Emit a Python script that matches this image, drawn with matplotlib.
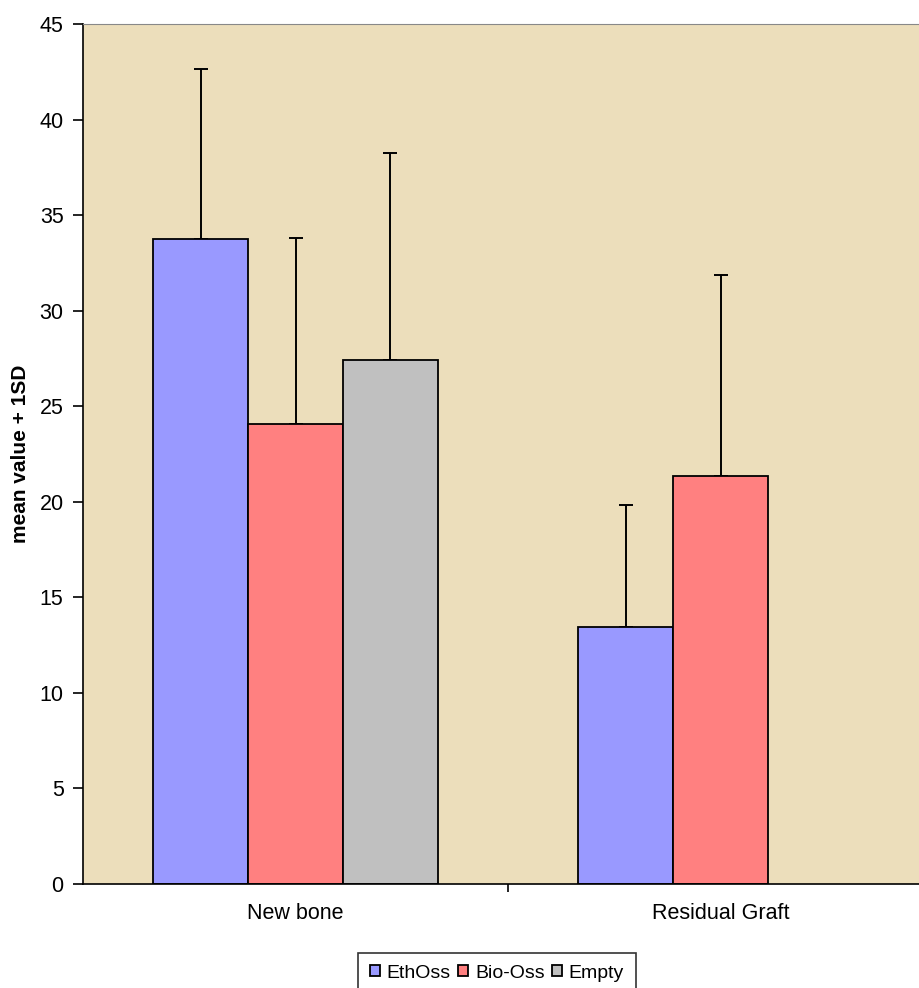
import numpy as np
import matplotlib.pyplot as plt

plt.rcParams['font.family'] = ['Liberation Sans', 'DejaVu Sans']

categories = ['New bone', 'Residual Graft']
series = ['EthOss', 'Bio-Oss', 'Empty']
means = {
    'EthOss': [33.75, 13.43],
    'Bio-Oss': [24.07, 21.33],
    'Empty': [27.42, np.nan],
}
sds = {
    'EthOss': [8.9, 6.39],
    'Bio-Oss': [9.73, 10.54],
    'Empty': [10.83, np.nan],
}
colors = {'EthOss': '#9999FF', 'Bio-Oss': '#FF8080', 'Empty': '#C0C0C0'}
yticks = [0, 5, 10, 15, 20, 25, 30, 35, 40, 45]

fig = plt.figure(figsize=(9.2, 9.88), dpi=100)
ax = fig.add_axes([83 / 920, 1 - 884 / 988, 850 / 920, 860 / 988])
ax.set_facecolor('#ECDEBB')

width = 0.2228
x = np.arange(len(categories))
for i, name in enumerate(series):
    pos = x + (i - 1) * width
    vals = np.array(means[name])
    errs = np.array(sds[name])
    ok = ~np.isnan(vals)
    ax.bar(pos[ok], vals[ok], width, color=colors[name], edgecolor='black',
           linewidth=1.3, label=name, zorder=2)
    # only the upper half of the SD bar is shown
    ax.errorbar(pos[ok], vals[ok], yerr=[np.zeros(ok.sum()), errs[ok]],
                fmt='none', ecolor='black', elinewidth=1.4, capsize=5,
                capthick=1.4, zorder=1)

ax.set_xlim(-0.5, 1.5)
ax.set_ylim(0, 45)
ax.set_yticks(yticks)
ax.tick_params(axis='y', direction='out', length=7, width=1.2, labelsize=15.5, pad=7)
ax.set_xticks([0.5])
ax.set_xticklabels([])
ax.tick_params(axis='x', direction='out', length=6, width=1.2)
for c, lab in zip(x, categories):
    ax.text(c, -1.83, lab, ha='center', va='baseline', fontsize=15.5)

ax.set_ylabel('mean value + 1SD', fontsize=15, fontweight='bold', labelpad=7)
ax.spines['left'].set_linewidth(1.2)
ax.spines['bottom'].set_linewidth(1.2)
ax.spines['top'].set_color('#888888')
ax.spines['right'].set_visible(False)

leg = fig.legend(loc='upper center', bbox_to_anchor=(497 / 920, 1 - 953 / 988),
                 ncol=3, fontsize=14, frameon=True, fancybox=False,
                 edgecolor='black', handlelength=0.5, handleheight=0.5,
                 handletextpad=0.35, columnspacing=0.4, borderpad=0.6,
                 borderaxespad=0)
leg.get_frame().set_linewidth(1.2)

fig.savefig('out.png', dpi=100)
